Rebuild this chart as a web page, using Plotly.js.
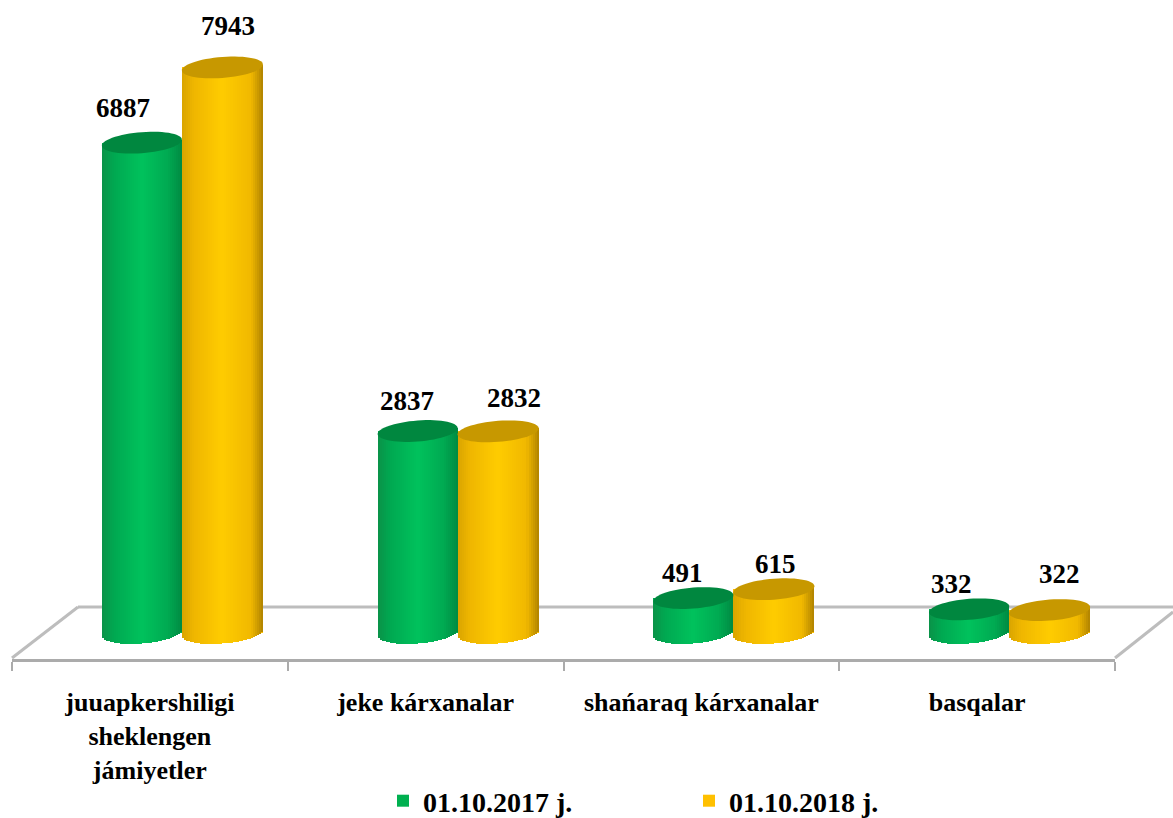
<!DOCTYPE html>
<html>
<head>
<meta charset="utf-8">
<script src="https://cdn.plot.ly/plotly-3.0.1.min.js"></script>
<style>html,body{margin:0;padding:0;background:#fff}#c{width:1173px;height:818px}</style>
</head>
<body>
<div id="c"></div>
<script>
// ---- data ----
const categories = ["juuapkershiligi<br>sheklengen<br>jámiyetler", "jeke kárxanalar", "shańaraq kárxanalar", "basqalar"];
const series2017 = [6887, 2837, 491, 332];
const series2018 = [7943, 2832, 615, 322];
const name2017 = "01.10.2017 j.";
const name2018 = "01.10.2018 j.";

// ---- look ----
const W = 1173, H = 818, L = 12, R = 58, T = 0, B = 159;
const plotW = W - L - R, plotH = H - T - B;
const catPx = plotW / 4;
const baseFromTop = 633, valueScale = 0.0712;      // pixels per unit
const yMax = baseFromTop / valueScale, yMin = -(plotH - baseFromTop) / valueScale;
const capB = 10.5 / valueScale, capTilt = 3 / valueScale;
const font = "Liberation Serif";
const N = 40;

const looks = [
  {vals: series2017, name: name2017, solid: "#00b050", off: -48 / catPx, wid: 80 / catPx,
   cap: "#00873f",
   stops: [[0, "#0a9248"], [0.15, "#00a851"], [0.5, "#00c25c"], [0.82, "#00aa52"], [1, "#008a42"]],
   dx: [-19, -11, -11, -18], dy: [35, 30, 25, 25]},
  {vals: series2018, name: name2018, solid: "#ffc000", off: 32 / catPx, wid: 81 / catPx,
   cap: "#c79800",
   stops: [[0, "#d9a400"], [0.15, "#efb600"], [0.5, "#ffcc00"], [0.85, "#f0b800"], [1, "#b08200"]],
   dx: [6, 16, 2, 10], dy: [41, 33, 25, 36]}
];

function hex(c) { return [1, 3, 5].map(i => parseInt(c.substr(i, 2), 16)); }
function shade(stops, t) {
  for (let i = 1; i < stops.length; i++) {
    if (t <= stops[i][0]) {
      const f = (t - stops[i - 1][0]) / (stops[i][0] - stops[i - 1][0]);
      const a = hex(stops[i - 1][1]), b = hex(stops[i][1]);
      return "rgb(" + a.map((v, k) => Math.round(v + (b[k] - v) * f)).join(",") + ")";
    }
  }
  return stops[stops.length - 1][1];
}

const xs = categories.map((_, i) => i);
const traces = [], shapes = [], annotations = [];

looks.forEach(s => {
  // solid base bar: carries the legend entry
  traces.push({type: "bar", x: xs, y: s.vals, name: s.name, offset: s.off, width: s.wid,
    marker: {color: s.solid, line: {width: 0}}, hoverinfo: "x+y"});
  // shaded strips give the cylinder body
  for (let k = 0; k < N; k++) {
    const t = (k + 0.5) / N, c = 2 * t - 1, sn = Math.sqrt(1 - c * c);
    const baseOff = -capB * sn + capTilt * c;
    const topOff = capTilt * c;
    traces.push({type: "bar", x: xs,
      y: s.vals.map(v => v + topOff - baseOff),
      base: s.vals.map(() => baseOff),
      offset: s.off + s.wid * k / N, width: s.wid / N * 1.05,
      marker: {color: shade(s.stops, t), line: {width: 0}},
      showlegend: false, hoverinfo: "skip"});
  }
});

looks.forEach(s => {
  s.vals.forEach((v, i) => {
    const cx = i + s.off + s.wid / 2, a = s.wid / 2;
    let d = "";
    for (let j = 0; j < 60; j++) {
      const th = j / 60 * 2 * Math.PI;
      const px = cx + a * Math.cos(th);
      const py = v + capB * Math.sin(th) + capTilt * Math.cos(th);
      d += (j ? "L" : "M") + px.toFixed(4) + "," + py.toFixed(2);
    }
    shapes.push({type: "path", xref: "x", yref: "y", path: d + "Z", layer: "above",
      fillcolor: s.cap, line: {width: 0}});
    annotations.push({xref: "x", yref: "y", x: cx, y: v, text: String(v), showarrow: false,
      xshift: s.dx[i], yshift: s.dy[i], xanchor: "center", yanchor: "middle",
      font: {family: font, size: 27, color: "#000", weight: 700}});
  });
});

// perspective floor
const px2x = p => (p - L) / plotW, px2y = p => 1 - (p - T) / plotH;
const floorLine = {color: "#bdbdbd", width: 3};
[[12, 658, 78, 607], [78, 607, 1173, 607], [1115, 658, 1173, 612]].forEach(q => {
  shapes.unshift({type: "line", xref: "paper", yref: "paper", layer: "below",
    x0: px2x(q[0]), y0: px2y(q[1]), x1: px2x(q[2]), y1: px2y(q[3]), line: floorLine});
});

const layout = {
  width: W, height: H, margin: {l: L, r: R, t: T, b: B, pad: 0, autoexpand: false},
  paper_bgcolor: "#fff", plot_bgcolor: "rgba(0,0,0,0)",
  barmode: "overlay", bargap: 0,
  xaxis: {type: "linear", range: [-0.5, 3.5], showgrid: false, zeroline: false,
    showline: true, linecolor: "#ababab", linewidth: 3,
    tickmode: "array", tickvals: xs, ticktext: categories, ticks: "",
    ticklabelstandoff: 18,
    tickfont: {family: font, size: 26, color: "#000", weight: 700},
    tickangle: 0,
    minor: {tickmode: "array", tickvals: [-0.5, 0.5, 1.5, 2.5, 3.5], ticks: "outside", ticklen: 9,
      tickwidth: 2, tickcolor: "#ababab", showgrid: false}},
  yaxis: {visible: false, range: [yMin, yMax], showgrid: false, zeroline: false},
  showlegend: true,
  legend: {orientation: "h", x: (383 - L) / plotW, xanchor: "left", y: 1 - (776 - T) / plotH, yanchor: "top",
    entrywidth: 261, entrywidthmode: "pixels", traceorder: "normal",
    font: {family: font, size: 28, color: "#000", weight: 700}, bgcolor: "rgba(0,0,0,0)"},
  shapes: shapes, annotations: annotations
};
Plotly.newPlot("c", traces, layout, {displayModeBar: false, staticPlot: true});
</script>
</body>
</html>
